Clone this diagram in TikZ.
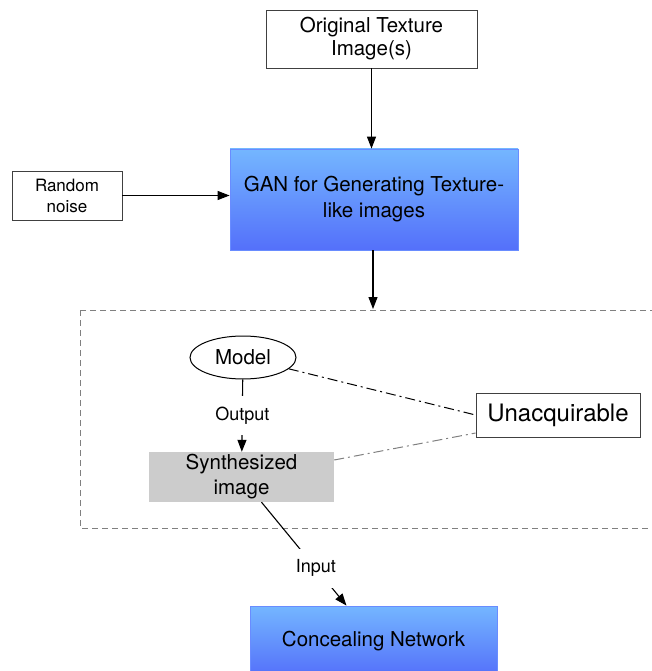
\documentclass[tikz,border=0pt]{standalone}
\usepackage{fontspec}
\setmainfont{TeX Gyre Heros}
\usepackage{tikz}
\usetikzlibrary{arrows.meta,calc,positioning,shapes.geometric}

\definecolor{bleuhaut}{RGB}{116,182,255}
\definecolor{bleubas}{RGB}{84,112,250}
\definecolor{bleubord}{RGB}{105,140,255}
\definecolor{grissynth}{RGB}{204,204,204}

\tikzset{
  boite/.style={draw=black!75, line width=0.8pt, inner sep=0pt, align=center},
  boitebleue/.style={draw=bleubord, line width=0.8pt, top color=bleuhaut, bottom color=bleubas, inner sep=0pt, align=center},
  fleche/.style={line width=1.1pt, -{Triangle[length=12pt,width=9pt]}},
  tiretpoint/.style={line width=1pt, dash pattern=on 10pt off 4pt on 2pt off 4pt},
  etiquette/.style={fill=white, inner sep=11pt, font=\fontsize{18}{20}\selectfont},
}

\begin{document}
\begin{tikzpicture}[x=1pt, y=-1pt]
\useasboundingbox (0,0) rectangle (652,671);
%
% Cadre pointille
\draw[gray, line width=1pt, dash pattern=on 6pt off 4pt] (80,310) rectangle (690,528);
\coordinate (cadre) at (373,309);
% Boites du haut
\node[boite, minimum width=211pt, minimum height=58pt, font=\fontsize{20.5}{23}\selectfont] (orig) at (371.5,39) {Original Texture\\Image(s)};
\node[boite, minimum width=110pt, minimum height=49pt, font=\fontsize{17}{21}\selectfont] (noise) at (67,195.5) {Random\\noise};
\node[boitebleue, minimum width=288pt, minimum height=101pt, font=\fontsize{20.5}{26}\selectfont] (gan) at (374,199.5) {GAN for Generating Texture-\\like images};
% Modele
\node[draw, ellipse, line width=1pt, minimum width=106pt, minimum height=43pt, inner sep=0pt, font=\fontsize{20.5}{23}\selectfont] (model) at (243,357.5) {Model};
\node[fill=grissynth, minimum width=185pt, minimum height=50pt, inner sep=0pt, align=center, font=\fontsize{20.5}{25}\selectfont] (synth) at (241.5,477) {Synthesized\\image};
\node[boite, minimum width=164pt, minimum height=44pt, font=\fontsize{24}{27}\selectfont] (unacq) at (558,415) {Unacquirable};
% Reseau
\node[boitebleue, minimum width=247pt, minimum height=70pt, font=\fontsize{20.5}{23}\selectfont] (conceal) at (373.5,641) {Concealing Network};
%
% Fleches
\draw[fleche] (orig) -- (orig |- gan.north);
\draw[fleche] (noise) -- (gan.west |- noise);
\draw[fleche] (gan.south -| cadre) -- (cadre);
\draw[fleche] (model) -- node[etiquette] {Output} (synth);
\draw[fleche] ([xshift=20pt]synth.south) -- node[etiquette, pos=0.64] {Input} ([xshift=-27pt]conceal.north);
% Liens vers Unacquirable
\draw[tiretpoint] (model) -- (unacq.west);
\draw[tiretpoint, gray] ([yshift=17pt]synth.east) -- ([yshift=-18pt]unacq.west);
\end{tikzpicture}
\end{document}
